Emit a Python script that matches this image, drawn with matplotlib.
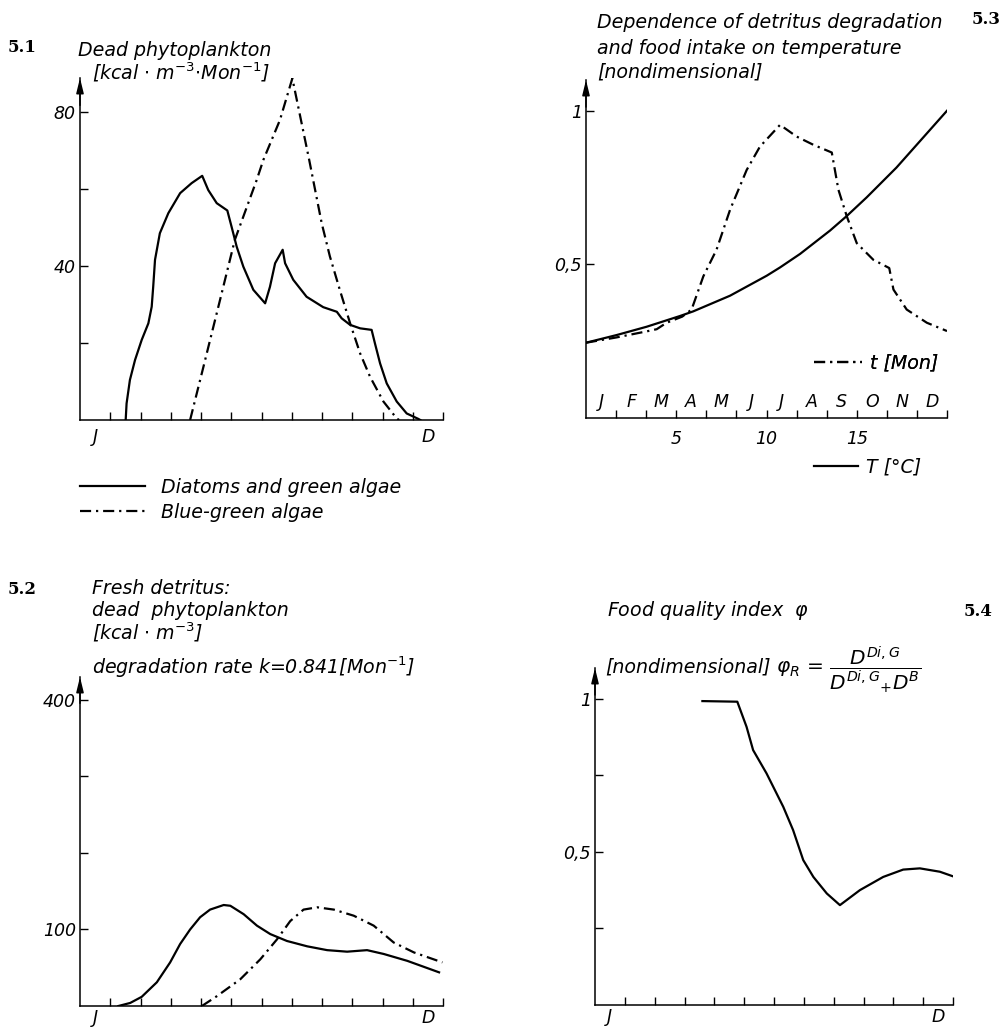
import matplotlib
matplotlib.use("Agg")
import matplotlib.pyplot as plt
from matplotlib.lines import Line2D
from matplotlib.transforms import blended_transform_factory as btf

plt.rcParams['font.family'] = ['DejaVu Sans']
plt.rcParams['mathtext.fontset'] = 'dejavusans'
plt.rcParams['mathtext.default'] = 'it'

# ---------------- data ----------------
# 5.1 dead phytoplankton [kcal m-3 Mon-1], x in months (0=start Jan, 12=end Dec)
diatom_month = [1.51, 1.54, 1.65, 1.82, 2.04, 2.26, 2.37, 2.42, 2.48, 2.64, 2.92, 3.31, 3.69,
                4.04, 4.24, 4.52, 4.87, 5.01, 5.18, 5.40, 5.73, 6.12, 6.28, 6.45, 6.70, 6.78,
                7.05, 7.49, 8.04, 8.49, 8.65, 8.93, 9.26, 9.64, 9.75, 9.92, 10.14, 10.47,
                10.80, 11.18, 11.25]
diatom_val = [0, 4.3, 10.4, 15.6, 20.8, 25.1, 29.4, 34.6, 41.6, 48.5, 53.7, 58.9, 61.5,
              63.4, 59.7, 56.3, 54.4, 50.2, 45, 39.8, 33.8, 30.3, 34.6, 40.7, 44.2, 40.7,
              36.4, 32, 29.3, 28.1, 26.4, 24.7, 23.8, 23.4, 19.9, 14.7, 9.5, 4.8,
              1.7, 0.3, 0]
bluegreen_month = [3.64, 4.08, 4.63, 5.12, 5.84, 6.06, 6.61, 6.94, 7.02, 7.27, 7.57, 7.99,
                   8.26, 8.60, 8.93, 9.26, 9.59, 10.03, 10.47, 10.55]
bluegreen_val = [0, 13.8, 31.2, 46.8, 62.3, 67.5, 77.9, 86.6, 88.7, 79.2, 67.8, 51.1,
                 42.5, 33.5, 25.1, 17.3, 11.2, 4.8, 0.4, 0]
p1_yticks = [20, 40, 60, 80]
p1_yticklabels = ['', '40', '', '80']

# 5.3 temperature dependence
temp_T = [0, 1.7, 3.36, 4.47, 5.21, 5.94, 7.98, 10.01, 10.75, 11.86, 13.52, 14.44, 15.55,
          17.2, 20.0]
temp_f = [0.245, 0.270, 0.297, 0.318, 0.332, 0.347, 0.398, 0.463, 0.490, 0.534, 0.610, 0.657,
          0.718, 0.815, 1.0]
time_month = [0, 1.0, 2.02, 2.35, 2.68, 3.2, 3.51, 3.90, 4.34, 4.79, 5.34, 5.78, 6.45, 7.00,
              7.56, 8.17, 8.39, 8.67, 9.00, 9.55, 10.08, 10.22, 10.66, 11.33, 12.0]
time_f = [0.245, 0.262, 0.282, 0.289, 0.31, 0.33, 0.353, 0.461, 0.548, 0.678, 0.807, 0.883,
          0.954, 0.916, 0.889, 0.864, 0.743, 0.656, 0.569, 0.515, 0.488, 0.418, 0.353,
          0.310, 0.283]
p3_xticks = [5, 10, 15]
p3_yticks = [0.5, 1.0]
p3_yticklabels = ['0,5', '1']
month_letters = ['J', 'F', 'M', 'A', 'M', 'J', 'J', 'A', 'S', 'O', 'N', 'D']

# 5.2 fresh detritus [kcal m-3]
fresh_month = [1.27, 1.66, 2.04, 2.54, 2.98, 3.31, 3.64, 3.97, 4.30, 4.75, 4.97, 5.41, 5.85,
               6.29, 6.84, 7.51, 8.17, 8.83, 9.49, 10.04, 10.82, 11.87]
fresh_val = [0, 4, 12, 31, 57, 81, 100, 116, 126, 132, 131, 120, 105, 94, 85, 78, 73, 71,
             73, 68, 59, 44]
bgdet_month = [4.03, 4.53, 5.30, 5.96, 6.51, 6.95, 7.39, 7.84, 8.39, 9.05, 9.71, 10.37,
               11.04, 11.98]
bgdet_val = [0, 13, 35, 61, 87, 111, 126, 129, 126, 118, 105, 83, 70, 57]
p2_yticks = [100, 200, 300, 400]
p2_yticklabels = ['100', '', '', '400']

# 5.4 food quality index
quality_month = [3.6, 4.77, 5.08, 5.30, 5.75, 6.31, 6.64, 6.98, 7.32, 7.77, 8.21, 8.88,
                 9.66, 10.33, 10.89, 11.56, 12.0]
quality_val = [0.992, 0.99, 0.908, 0.832, 0.756, 0.647, 0.571, 0.473, 0.418, 0.364, 0.326,
               0.375, 0.418, 0.442, 0.446, 0.435, 0.42]
p4_yticks = [0.25, 0.5, 0.75, 1.0]
p4_yticklabels = ['', '0,5', '', '1']

month_ticks = list(range(1, 13))

# ---------------- layout ----------------
W, H = 1005, 1029
fig = plt.figure(figsize=(W / 100, H / 100), dpi=100)
FS = 13.7      # titles / legends
TFS = 12.5     # tick labels
LW = 1.6
DASHDOT = (0, (5, 2.2, 1, 2.2))


def rect(x0, x1, ytop, ybot):
    return [x0 / W, 1 - ybot / H, (x1 - x0) / W, (ybot - ytop) / H]


def ftext(x, y, s, **kw):
    d = dict(ha='left', va='center', fontsize=FS, style='italic')
    d.update(kw)
    fig.text(x / W, 1 - y / H, s, **d)


def panel_label(x, y, s):
    fig.text(x / W, 1 - y / H, s, ha='left', va='center', fontsize=12,
             family='DejaVu Serif', weight='bold')


def style_axes(ax):
    for s in ['top', 'right']:
        ax.spines[s].set_visible(False)
    for s in ['left', 'bottom']:
        ax.spines[s].set_linewidth(1.1)
    ax.tick_params(direction='in', length=6, width=1.0, labelsize=TFS, pad=3)
    for lab in ax.get_yticklabels() + ax.get_xticklabels():
        lab.set_style('italic')
    ax.annotate('', xy=(0, 1.0), xytext=(0, 0.92), xycoords='axes fraction',
                arrowprops=dict(arrowstyle='-|>,head_length=0.9,head_width=0.22',
                                lw=1.1, color='k', shrinkA=0, shrinkB=0))


def month_JD(ax, off_px, hpx):
    tr = btf(ax.transData, ax.transAxes)
    yy = -off_px / hpx
    ax.text(0.5, yy, 'J', transform=tr, ha='center', va='center', fontsize=TFS, style='italic')
    ax.text(11.5, yy, 'D', transform=tr, ha='center', va='center', fontsize=TFS, style='italic')


# ---- 5.1 ----
ax1 = fig.add_axes(rect(80, 443, 78, 420))
ax1.plot(diatom_month, diatom_val, color='k', lw=LW)
ax1.plot(bluegreen_month, bluegreen_val, color='k', lw=LW, linestyle=DASHDOT)
ax1.set_xlim(0, 12)
ax1.set_ylim(0, 88.8)
ax1.set_xticks(month_ticks)
ax1.set_xticklabels([])
ax1.set_yticks(p1_yticks)
ax1.set_yticklabels(p1_yticklabels)
style_axes(ax1)
month_JD(ax1, 17, 342)
fig.legend([Line2D([], [], color='k', lw=LW), Line2D([], [], color='k', lw=LW, linestyle=DASHDOT)],
           ['Diatoms and green algae', 'Blue-green algae'],
           loc='upper left', bbox_to_anchor=(80 / W, 1 - 478 / H), frameon=False,
           prop=dict(size=FS, style='italic'), handlelength=3.4, handletextpad=0.85,
           labelspacing=0.3, borderpad=0, borderaxespad=0)
panel_label(8, 47, '5.1')
ftext(78, 50, 'Dead phytoplankton')
ftext(92, 72, r'[kcal $\cdot$ m$^{-3}$$\cdot$Mon$^{-1}$]')

# ---- 5.3 ----
ax3 = fig.add_axes(rect(586, 947, 80, 418))
ax3.plot(temp_T, temp_f, color='k', lw=LW)
ax3.set_xlim(0, 20)
ax3.set_ylim(0, 1.1)
ax3.set_xticks(p3_xticks)
ax3.set_yticks(p3_yticks)
ax3.set_yticklabels(p3_yticklabels)
style_axes(ax3)
ax3.tick_params(axis='x', length=0, pad=9)
ax3b = ax3.twiny()
ax3b.plot(time_month, time_f, color='k', lw=LW, linestyle=DASHDOT)
ax3b.set_xlim(0, 12)
ax3b.set_ylim(0, 1.1)
for s in ax3b.spines.values():
    s.set_visible(False)
ax3b.xaxis.set_ticks_position('bottom')
ax3b.set_xticks(month_ticks)
ax3b.set_xticklabels([])
ax3b.tick_params(direction='in', length=6, width=1.0)
trm = btf(ax3b.transData, ax3b.transAxes)
for i, m in enumerate(month_letters):
    ax3b.text(i + 0.5, 0.047, m, transform=trm, ha='center', va='center', fontsize=TFS,
              style='italic')
leg_t = ax3.legend([Line2D([], [], color='k', lw=LW, linestyle=DASHDOT)], ['t [Mon]'],
                   loc='center left', bbox_to_anchor=(814 / W, 1 - 363 / H),
                   bbox_transform=fig.transFigure, frameon=False,
                   prop=dict(size=FS, style='italic'), handlelength=2.5, handletextpad=0.45,
                   borderpad=0, borderaxespad=0)
ax3.add_artist(leg_t)
fig.legend([Line2D([], [], color='k', lw=LW)], ['T [°C]'],
           loc='center left', bbox_to_anchor=(814 / W, 1 - 467 / H), frameon=False,
           prop=dict(size=FS, style='italic'), handlelength=2.3, handletextpad=0.45,
           borderpad=0, borderaxespad=0)
panel_label(972, 20, '5.3')
ftext(597, 23, 'Dependence of detritus degradation')
ftext(597, 48, 'and food intake on temperature')
ftext(597, 72, '[nondimensional]')

# ---- 5.2 ----
ax2 = fig.add_axes(rect(80, 443, 677, 1006))
ax2.plot(fresh_month, fresh_val, color='k', lw=LW)
ax2.plot(bgdet_month, bgdet_val, color='k', lw=LW, linestyle=DASHDOT)
ax2.set_xlim(0, 12)
ax2.set_ylim(0, 430)
ax2.set_xticks(month_ticks)
ax2.set_xticklabels([])
ax2.set_yticks(p2_yticks)
ax2.set_yticklabels(p2_yticklabels)
style_axes(ax2)
month_JD(ax2, 12, 329)
panel_label(8, 589, '5.2')
ftext(92, 588, 'Fresh detritus:')
ftext(92, 610, 'dead  phytoplankton')
ftext(92, 632, r'[kcal $\cdot$ m$^{-3}$]')
ftext(92, 667, r'degradation rate k=0.841[Mon$^{-1}$]')

# ---- 5.4 ----
ax4 = fig.add_axes(rect(595, 953, 668, 1005))
ax4.plot(quality_month, quality_val, color='k', lw=LW)
ax4.set_xlim(0, 12)
ax4.set_ylim(0, 1.1)
ax4.set_xticks(month_ticks)
ax4.set_xticklabels([])
ax4.set_yticks(p4_yticks)
ax4.set_yticklabels(p4_yticklabels)
style_axes(ax4)
month_JD(ax4, 12, 337)
panel_label(964, 612, '5.4')
ftext(607, 610, r'Food quality index  $\varphi$')
ftext(605, 667, '[nondimensional]')
ftext(776, 670, r'$\varphi_R$ = $\dfrac{D^{Di,G}}{D^{Di,G}{}_{+}D^{B}}$', fontsize=14.5)

fig.savefig('out.png', dpi=100)
